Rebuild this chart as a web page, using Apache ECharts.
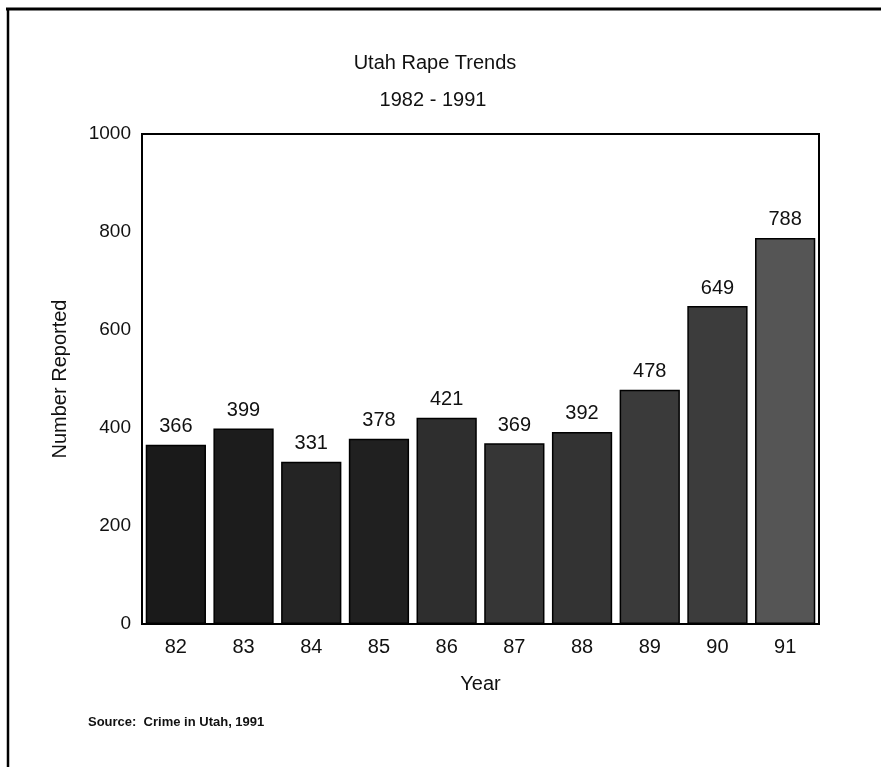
<!DOCTYPE html>
<html><head><meta charset="utf-8">
<script src="https://cdn.jsdelivr.net/npm/echarts@6/dist/echarts.min.js"></script>
<style>html,body{margin:0;padding:0;background:#fff}#c{width:881px;height:767px}</style>
</head><body><div id="c"></div>
<script>
const years = ['82','83','84','85','86','87','88','89','90','91'];
const reported = [366,399,331,378,421,369,392,478,649,788];
const barShades = ['#1a1a1a','#1c1c1c','#242424','#202020','#2e2e2e','#363636','#333333','#3a3a3a','#3c3c3c','#555555'];
const yTicks = [0,200,400,600,800,1000];

const font = '"Liberation Sans", Arial, Helvetica, sans-serif';
const chart = echarts.init(document.getElementById('c'));
chart.setOption({
  animation:false,
  backgroundColor:'#fff',
  title:[
    {text:'Utah Rape Trends', left:430, top:48, textAlign:'center', textStyle:{fontFamily:font,fontSize:20,fontWeight:'normal',color:'#111'}},
    {text:'1982 - 1991', left:428, top:85, textAlign:'center', textStyle:{fontFamily:font,fontSize:20,fontWeight:'normal',color:'#111'}},
    {text:'Source:  Crime in Utah, 1991', left:83, top:711, textStyle:{fontFamily:font,fontSize:13,fontWeight:'bold',color:'#111'}}
  ],
  grid:{left:142, top:134, width:677, height:490, show:true, borderColor:'#000', borderWidth:2, backgroundColor:'transparent'},
  xAxis:{type:'category', data:years, name:'Year', nameLocation:'middle', nameGap:50,
    nameTextStyle:{fontFamily:font,fontSize:20,color:'#111'},
    axisLine:{lineStyle:{color:'#000',width:2}}, axisTick:{show:false},
    axisLabel:{fontFamily:font,fontSize:20,color:'#111',margin:13}},
  yAxis:{type:'value', min:yTicks[0], max:yTicks[yTicks.length-1], interval:200, name:'Number Reported',
    nameLocation:'middle', nameGap:72, nameTextStyle:{fontFamily:font,fontSize:20,color:'#111'},
    axisLine:{show:true,lineStyle:{color:'#000',width:2}}, axisTick:{show:false}, splitLine:{show:false},
    axisLabel:{fontFamily:font,fontSize:19,color:'#111',margin:11, formatter:v=>String(v)}},
  series:[{type:'bar', barCategoryGap:'11%',
    data:reported.map((v,i)=>({value:v,itemStyle:{color:barShades[i]}})),
    itemStyle:{borderColor:'#000',borderWidth:1.5},
    label:{show:true,position:'top',distance:8,fontFamily:font,fontSize:20,color:'#111'}}],
  graphic:[
    {type:'line', shape:{x1:6,y1:9,x2:881,y2:9}, style:{stroke:'#000',lineWidth:3}},
    {type:'line', shape:{x1:8,y1:8,x2:8,y2:767}, style:{stroke:'#000',lineWidth:2.5}}
  ]
});
</script></body></html>
